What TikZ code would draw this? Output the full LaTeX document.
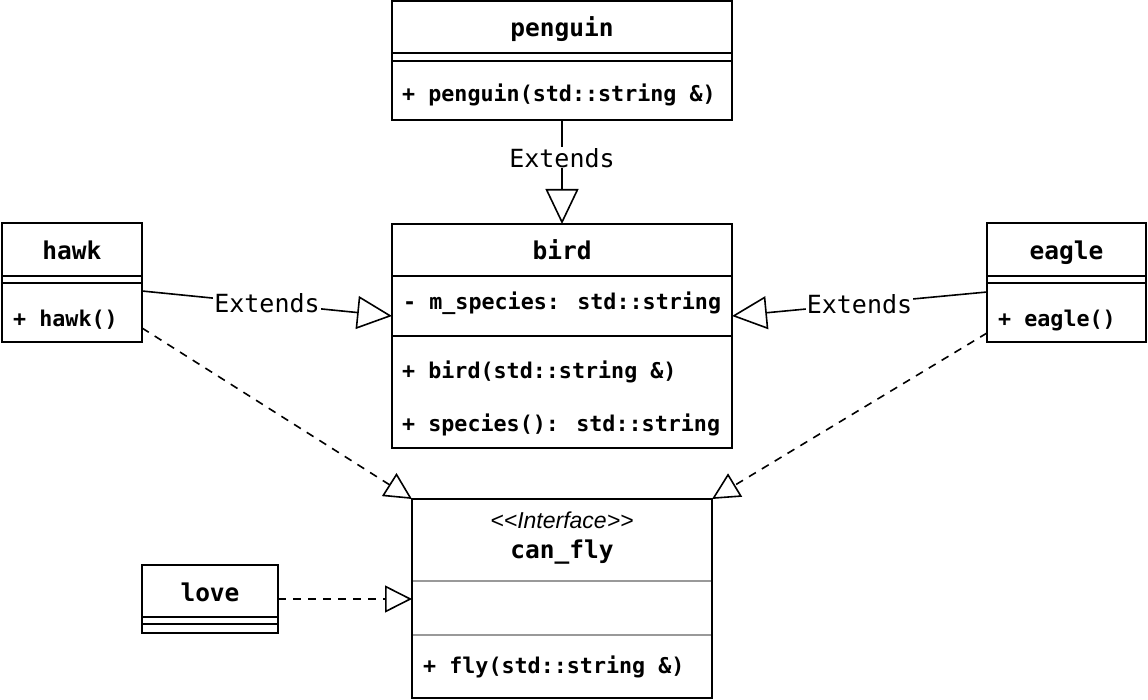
\documentclass[tikz,border=0pt]{standalone}
\usepackage{fontspec}
\setmainfont{Liberation Sans}
\newfontfamily\monofont{DejaVu Sans Mono}
\newfontfamily\ifont{Liberation Sans}
\usetikzlibrary{arrows.meta}
\begin{document}
\begin{tikzpicture}[x=1pt,y=-1pt,
 box/.style={draw, line width=2pt, inner sep=0pt, outer sep=0pt, anchor=north west},
 sepline/.style={line width=2pt},
 gsep/.style={line width=2pt, draw=black!40},
 ttl/.style={font=\monofont\bfseries\fontsize{24.5}{28}\selectfont, anchor=base, inner sep=0pt},
 mem/.style={font=\monofont\bfseries\fontsize{21.7}{26}\selectfont, anchor=base west, inner sep=0pt},
 ext/.style={line width=1.6pt, -{Triangle[open, length=35pt, width=33pt, line width=1.6pt]}},
 realz/.style={line width=1.6pt, dash pattern=on 8pt off 7pt, -{Triangle[open, length=27pt, width=27pt, line width=1.6pt]}},
 lbl/.style={font=\monofont\fontsize{25}{28}\selectfont, fill=white, inner sep=1pt}
]
\useasboundingbox (0,0) rectangle (1148,700);

% penguin
\node[box, minimum width=340pt, minimum height=119pt] (penguin) at (392,1.5) {};
\draw[sepline] (392,53) -- (732,53);
\draw[sepline] (392,61) -- (732,61);
\node[ttl] (penguinT) at (562,37) {penguin};
\node[mem] (penguinM) at (402,102) {+ penguin(std::string \&)};

% bird
\node[box, minimum width=340pt, minimum height=224pt] (bird) at (392,224) {};
\draw[sepline] (392,276) -- (732,276);
\draw[sepline] (392,336) -- (732,336);
\node[ttl] (birdT) at (562,260) {bird};
\node[mem] (birdA) at (403,310) {- m\_species: std::string};
\node[mem] (birdM1) at (402,378) {+ bird(std::string \&)};
\node[mem] (birdM2) at (402,431) {+ species(): std::string};

% hawk
\node[box, minimum width=140pt, minimum height=119pt] (hawk) at (2,223) {};
\draw[sepline] (2,276) -- (142,276);
\draw[sepline] (2,283) -- (142,283);
\node[ttl] (hawkT) at (72,260) {hawk};
\node[mem] (hawkM) at (13,327) {+ hawk()};

% eagle
\node[box, minimum width=159pt, minimum height=119pt] (eagle) at (987,223) {};
\draw[sepline] (987,276) -- (1146,276);
\draw[sepline] (987,283) -- (1146,283);
\node[ttl] (eagleT) at (1066.5,260) {eagle};
\node[mem] (eagleM) at (998,327) {+ eagle()};

% love
\node[box, minimum width=136pt, minimum height=68pt] (love) at (142,565) {};
\draw[sepline] (142,617) -- (278,617);
\draw[sepline] (142,624) -- (278,624);
\node[ttl] (loveT) at (210,601) {love};

% can_fly
\node[box, minimum width=300pt, minimum height=199pt] (canfly) at (412,499) {};
\draw[gsep] (413,581) -- (711,581);
\draw[gsep] (413,635) -- (711,635);
\node[font=\ifont\itshape\fontsize{23}{26}\selectfont, anchor=base, inner sep=0pt] (canflyS) at (562,528) {<\kern0pt<Interface>\kern0pt>};
\node[ttl] (canflyT) at (562,558) {can\_fly};
\node[mem] (canflyM) at (423,673) {+ fly(std::string \&)};

% connectors
\draw[ext] (penguin.south) -- node[lbl, pos=0.36] {Extends} (bird.north);
\draw[ext] ([yshift=-8.5pt]hawk.east) -- node[lbl] {Extends} ([yshift=20pt]bird.west);
\draw[ext] ([yshift=-9.5pt]eagle.west) -- node[lbl] {Extends} ([yshift=20pt]bird.east);
\draw[realz] ([yshift=-45.5pt]hawk.east) -- (canfly.north west);
\draw[realz] ([yshift=-50.5pt]eagle.west) -- (canfly.north east);
\draw[realz] (love.east) -- (love.east -| canfly.west);
\end{tikzpicture}
\end{document}
